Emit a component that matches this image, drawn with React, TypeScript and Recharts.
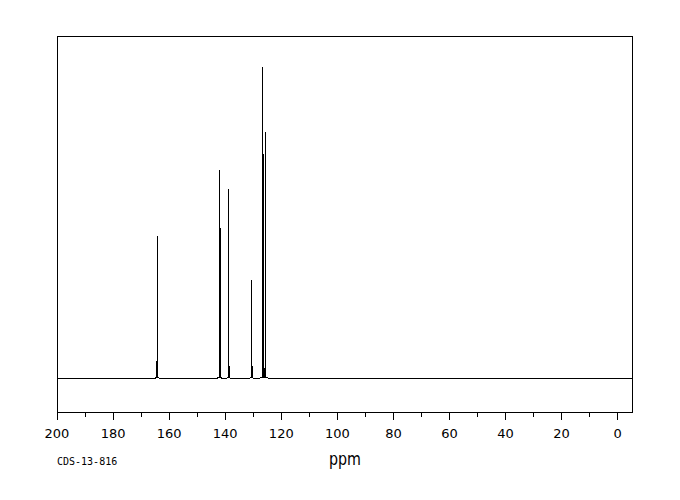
import { LineChart, Line, XAxis, YAxis, ReferenceArea } from 'recharts';

// 13C NMR stick spectrum, intensities normalised to tallest peak = 100
const peakPpm = [164.4, 164.04, 142.14, 141.79, 138.93, 138.57, 130.71, 130.36, 126.79, 126.43, 126.07, 125.71];
const peakHeight = [5.8, 45.9, 66.9, 48.3, 60.7, 4.2, 31.7, 4.2, 100, 72.0, 3.5, 79.2];

// small baseline humps under the peak groups
const footStart = [165.2, 143.0, 139.6, 131.4, 127.8];
const footEnd = [163.3, 141.0, 138.0, 129.7, 124.6];
const footHeight = [0.35, 0.35, 0.35, 0.35, 0.6];

const xTicks = [0, 10, 20, 30, 40, 50, 60, 70, 80, 90, 100, 110, 120, 130, 140, 150, 160, 170, 180, 190, 200];
const X_MIN = -5.1;
const X_MAX = 200;
const Y_MIN = -10.6;
const Y_MAX = 109.8;

const buildSpectrum = () => {
  const pts: { ppm: number; y: number }[] = [
    { ppm: X_MAX, y: 0 },
    { ppm: X_MIN, y: 0 },
  ];
  footStart.forEach((s, i) => {
    pts.push({ ppm: s, y: 0 });
    pts.push({ ppm: s - 0.4, y: footHeight[i] });
    pts.push({ ppm: footEnd[i] + 0.4, y: footHeight[i] });
    pts.push({ ppm: footEnd[i], y: 0 });
  });
  peakPpm.forEach((p, i) => {
    const f = footStart.findIndex((s, j) => p < s && p > footEnd[j]);
    const base = f >= 0 ? footHeight[f] : 0;
    pts.push({ ppm: p + 0.06, y: base });
    pts.push({ ppm: p, y: peakHeight[i] });
    pts.push({ ppm: p - 0.06, y: base });
  });
  return pts.sort((a, b) => b.ppm - a.ppm);
};

const PpmTick = (props: any) => {
  const { x, y, payload } = props;
  const major = payload.value % 20 === 0;
  return (
    <g>
      <line x1={x} x2={x} y1={y} y2={y + (major ? 8 : 5)} stroke="#000" shapeRendering="crispEdges" />
      {major && (
        <text x={x} y={y + 26} textAnchor="middle" fontFamily="DejaVu Sans" fontSize={13} fill="#000">
          {payload.value}
        </text>
      )}
    </g>
  );
};

export default function App() {
  const data = buildSpectrum();
  return (
    <div style={{ position: 'absolute', left: 0, top: 0, width: 680, height: 500, background: '#fff' }}>
      <LineChart width={680} height={500} data={data} margin={{ top: 36, right: 48, left: 57, bottom: 0 }}>
        <XAxis
          dataKey="ppm"
          type="number"
          domain={[X_MIN, X_MAX]}
          reversed
          allowDataOverflow
          ticks={xTicks}
          interval={0}
          tick={<PpmTick />}
          tickLine={false}
          axisLine={false}
          tickSize={0}
          tickMargin={0}
          height={88}
        />
        <YAxis hide type="number" domain={[Y_MIN, Y_MAX]} allowDataOverflow />
        <ReferenceArea
          x1={X_MAX}
          x2={X_MIN}
          y1={Y_MIN}
          y2={Y_MAX}
          fill="none"
          stroke="#000"
          strokeWidth={1}
          shapeRendering="crispEdges"
        />
        <Line
          dataKey="y"
          type="linear"
          stroke="#000"
          strokeWidth={1}
          dot={false}
          shapeRendering="crispEdges"
          isAnimationActive={false}
        />
      </LineChart>
      <svg width={680} height={500} style={{ position: 'absolute', left: 0, top: 0, pointerEvents: 'none' }}>
        <text x={57} y={465} fontFamily="DejaVu Sans Mono" fontSize={10} fill="#000">
          CDS-13-816
        </text>
        <text x={345} y={465} textAnchor="middle" fontFamily="DejaVu Sans" fontSize={17} fill="#000" textLength={32} lengthAdjust="spacingAndGlyphs">
          ppm
        </text>
      </svg>
    </div>
  );
}
